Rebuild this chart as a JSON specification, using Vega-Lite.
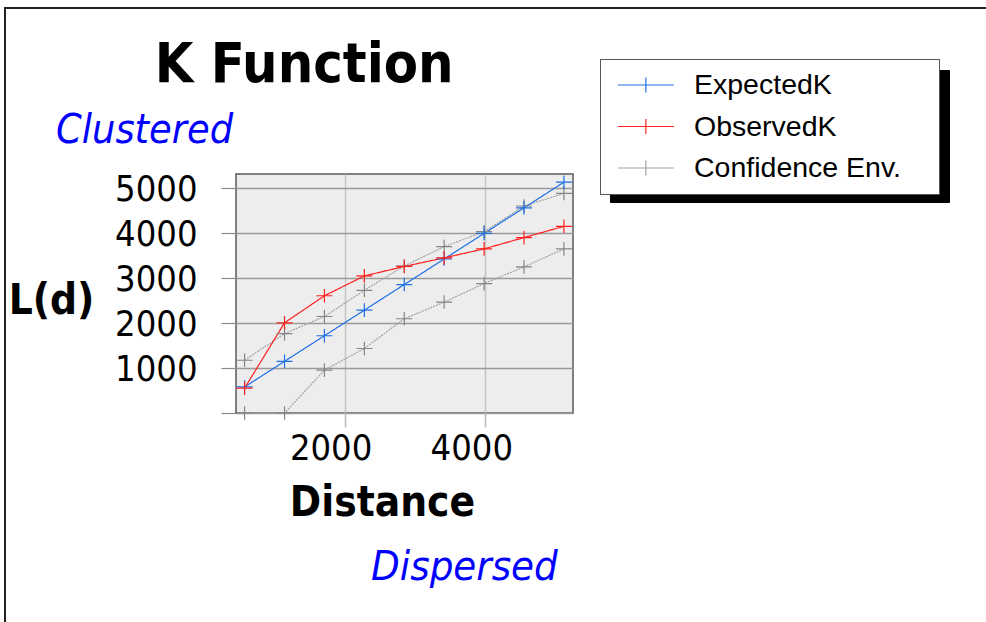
{
  "$schema": "https://vega.github.io/schema/vega-lite/v6.json",
  "width": 337,
  "height": 239,
  "autosize": {"type": "none"},
  "padding": {"left": 236, "top": 174, "right": 413, "bottom": 209},
  "background": "white",
  "config": {
    "view": {"fill": "#ededed", "stroke": "#5a5a5a", "strokeWidth": 1.5},
    "font": "DejaVu Sans Condensed"
  },
  "datasets": {
    "kfunction": [
      {"distance": 578, "value": 1170, "series": "Confidence Env.", "band": "upper"},
      {"distance": 1146, "value": 1760, "series": "Confidence Env.", "band": "upper"},
      {"distance": 1713, "value": 2140, "series": "Confidence Env.", "band": "upper"},
      {"distance": 2281, "value": 2720, "series": "Confidence Env.", "band": "upper"},
      {"distance": 2848, "value": 3260, "series": "Confidence Env.", "band": "upper"},
      {"distance": 3415, "value": 3690, "series": "Confidence Env.", "band": "upper"},
      {"distance": 3983, "value": 4020, "series": "Confidence Env.", "band": "upper"},
      {"distance": 4550, "value": 4590, "series": "Confidence Env.", "band": "upper"},
      {"distance": 5118, "value": 4870, "series": "Confidence Env.", "band": "upper"},
      {"distance": 578, "value": 0, "series": "Confidence Env.", "band": "lower"},
      {"distance": 1146, "value": 0, "series": "Confidence Env.", "band": "lower"},
      {"distance": 1713, "value": 950, "series": "Confidence Env.", "band": "lower"},
      {"distance": 2281, "value": 1430, "series": "Confidence Env.", "band": "lower"},
      {"distance": 2848, "value": 2090, "series": "Confidence Env.", "band": "lower"},
      {"distance": 3415, "value": 2460, "series": "Confidence Env.", "band": "lower"},
      {"distance": 3983, "value": 2870, "series": "Confidence Env.", "band": "lower"},
      {"distance": 4550, "value": 3240, "series": "Confidence Env.", "band": "lower"},
      {"distance": 5118, "value": 3640, "series": "Confidence Env.", "band": "lower"},
      {"distance": 578, "value": 578, "series": "ExpectedK", "band": "expected"},
      {"distance": 1146, "value": 1146, "series": "ExpectedK", "band": "expected"},
      {"distance": 1713, "value": 1713, "series": "ExpectedK", "band": "expected"},
      {"distance": 2281, "value": 2281, "series": "ExpectedK", "band": "expected"},
      {"distance": 2848, "value": 2848, "series": "ExpectedK", "band": "expected"},
      {"distance": 3415, "value": 3415, "series": "ExpectedK", "band": "expected"},
      {"distance": 3983, "value": 3983, "series": "ExpectedK", "band": "expected"},
      {"distance": 4550, "value": 4550, "series": "ExpectedK", "band": "expected"},
      {"distance": 5118, "value": 5118, "series": "ExpectedK", "band": "expected"},
      {"distance": 578, "value": 550, "series": "ObservedK", "band": "observed"},
      {"distance": 1146, "value": 2000, "series": "ObservedK", "band": "observed"},
      {"distance": 1713, "value": 2600, "series": "ObservedK", "band": "observed"},
      {"distance": 2281, "value": 3040, "series": "ObservedK", "band": "observed"},
      {"distance": 2848, "value": 3250, "series": "ObservedK", "band": "observed"},
      {"distance": 3415, "value": 3440, "series": "ObservedK", "band": "observed"},
      {"distance": 3983, "value": 3640, "series": "ObservedK", "band": "observed"},
      {"distance": 4550, "value": 3890, "series": "ObservedK", "band": "observed"},
      {"distance": 5118, "value": 4140, "series": "ObservedK", "band": "observed"}
    ]
  },
  "layer": [
    {
      "data": {"values": [{}]},
      "mark": {"type": "rect", "fillOpacity": 0, "stroke": "#222222", "strokeWidth": 2},
      "encoding": {
        "x": {"datum": -2828, "type": "quantitative"},
        "x2": {"datum": 11400},
        "y": {"datum": 8981, "type": "quantitative"},
        "y2": {"datum": -5000}
      }
    },
    {
      "data": {"values": [{"label": "K Function"}]},
      "mark": {"type": "text", "align": "left", "baseline": "alphabetic", "font": "DejaVu Sans Condensed", "fontWeight": "bold", "fontSize": 55.5, "color": "black"},
      "encoding": {
        "x": {"datum": -700, "type": "quantitative"},
        "y": {"datum": 7340, "type": "quantitative"},
        "text": {"field": "label"}
      }
    },
    {
      "data": {"values": [{"label": "Clustered"}]},
      "mark": {"type": "text", "align": "left", "baseline": "alphabetic", "font": "DejaVu Sans Condensed", "fontStyle": "italic", "fontSize": 41, "color": "#0000ff"},
      "encoding": {
        "x": {"datum": -2103, "type": "quantitative"},
        "y": {"datum": 5988, "type": "quantitative"},
        "text": {"field": "label"}
      }
    },
    {
      "data": {"values": [{"label": "Dispersed"}]},
      "mark": {"type": "text", "align": "left", "baseline": "alphabetic", "font": "DejaVu Sans Condensed", "fontStyle": "italic", "fontSize": 41.5, "color": "#0000ff"},
      "encoding": {
        "x": {"datum": 2376, "type": "quantitative"},
        "y": {"datum": -3703, "type": "quantitative"},
        "text": {"field": "label"}
      }
    },
    {
      "data": {"name": "kfunction"},
      "layer": [
        {
          "mark": {"type": "line", "strokeWidth": 1.2},
          "encoding": {
            "x": {
              "field": "distance", "type": "quantitative",
              "scale": {"domain": [456, 5247], "nice": false, "zero": false},
              "axis": {
                "values": [2000, 4000], "format": "d", "domain": false,
                "grid": true, "gridColor": "#c4c4c4", "gridWidth": 1.5,
                "tickColor": "#bbbbbb", "tickSize": 14, "tickWidth": 1.5,
                "labelFont": "DejaVu Sans Condensed", "labelFontSize": 36, "labelColor": "black",
                "labelPadding": 4, "labelOffset": -14,
                "title": "Distance", "titleFont": "DejaVu Sans Condensed", "titleFontSize": 42,
                "titleFontWeight": "bold", "titleColor": "black",
                "titleX": 146, "titleY": 102, "titleAlign": "center", "titleBaseline": "alphabetic"
              }
            },
            "y": {
              "field": "value", "type": "quantitative",
              "scale": {"domain": [0, 5300], "nice": false, "zero": false},
              "axis": {
                "values": [0, 1000, 2000, 3000, 4000, 5000], "format": "d", "domain": false,
                "labelExpr": "datum.value == 0 ? '' : datum.label",
                "grid": true, "gridColor": "#9a9a9a", "gridWidth": 1.5,
                "tickColor": "#8a8a8a", "tickSize": 15, "tickWidth": 1.2,
                "labelFont": "DejaVu Sans Condensed", "labelFontSize": 36, "labelColor": "black",
                "labelPadding": 24, "labelOffset": 2,
                "title": "L(d)", "titleFont": "DejaVu Sans Condensed", "titleFontSize": 42,
                "titleFontWeight": "bold", "titleColor": "black", "titleAngle": 0,
                "titleX": -185, "titleY": 126, "titleAlign": "center", "titleBaseline": "middle"
              }
            },
            "color": {
              "field": "series", "type": "nominal",
              "scale": {"domain": ["ExpectedK", "ObservedK", "Confidence Env."], "range": ["#1f6fe6", "#ff1f1f", "#a2a2a2"]},
              "legend": {
                "orient": "none", "legendX": 364, "legendY": -115, "title": null,
                "fillColor": "white", "strokeColor": "#555555", "padding": 11, "rowPadding": 11.5,
                "symbolType": "M-1,0M21.4,0M-0.58,0H3.42M1.42,-0.54V0.54", "symbolSize": 784, "symbolStrokeWidth": 1.2,
                "labelFont": "Liberation Sans", "labelFontSize": 28.5, "labelColor": "black",
                "labelOffset": 53, "labelLimit": 600, "zindex": 2
              }
            },
            "strokeDash": {
              "field": "series", "type": "nominal",
              "scale": {"domain": ["ExpectedK", "ObservedK", "Confidence Env."], "range": [[1, 0], [1, 0], [2, 1]]},
              "legend": {
                "orient": "none", "legendX": 364, "legendY": -115, "title": null,
                "fillColor": "white", "strokeColor": "#555555", "padding": 11, "rowPadding": 11.5,
                "symbolType": "M-1,0M21.4,0M-0.58,0H3.42M1.42,-0.54V0.54", "symbolSize": 784, "symbolStrokeWidth": 1.2,
                "labelFont": "Liberation Sans", "labelFontSize": 28.5, "labelColor": "black",
                "labelOffset": 53, "labelLimit": 600, "zindex": 2
              }
            },
            "detail": {"field": "band"}
          }
        },
        {
          "mark": {"type": "point", "shape": "M-1,0H1M0,-0.85V0.85", "size": 256, "filled": false, "strokeWidth": 1.2, "opacity": 1},
          "encoding": {
            "x": {"field": "distance", "type": "quantitative"},
            "y": {"field": "value", "type": "quantitative"},
            "stroke": {
              "field": "series", "type": "nominal",
              "scale": {"domain": ["ExpectedK", "ObservedK", "Confidence Env."], "range": ["#1f6fe6", "#ff1f1f", "#858585"]},
              "legend": null
            }
          }
        }
      ]
    },
    {
      "data": {"name": "kfunction"},
      "mark": {"type": "line", "opacity": 0},
      "encoding": {
        "x": {"field": "distance", "type": "quantitative"},
        "y": {"field": "value", "type": "quantitative"},
        "detail": {"field": "band"},
        "color": {
          "field": "series", "type": "nominal",
          "scale": {"domain": ["ExpectedK", "ObservedK", "Confidence Env."], "range": ["black", "black", "black"]},
          "legend": {
            "orient": "none", "legendX": 374, "legendY": -104, "title": null,
            "fillColor": "black", "strokeColor": "black", "padding": 11, "rowPadding": 11.5,
            "symbolType": "M-1,-0.88M21.4,0.88", "symbolSize": 784, "symbolStrokeWidth": 1,
            "symbolStrokeColor": "black",
            "labelExpr": "''",
            "labelFont": "Liberation Sans", "labelFontSize": 28.5, "labelColor": "black",
            "labelOffset": 53, "labelLimit": 600, "zindex": 1
          }
        }
      }
    }
  ],
  "resolve": {"scale": {"color": "independent"}, "legend": {"color": "independent"}}
}
